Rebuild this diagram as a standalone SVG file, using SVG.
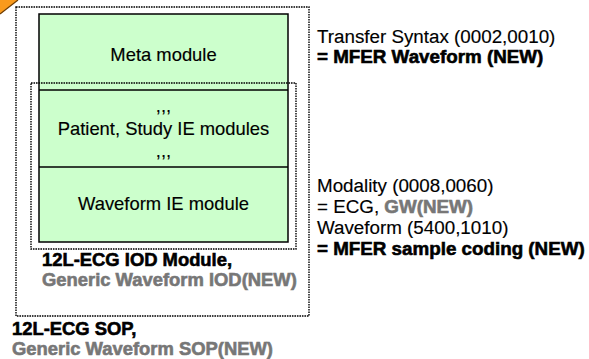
<svg xmlns="http://www.w3.org/2000/svg" width="589" height="359" viewBox="0 0 589 359">
  <style>
    .frame { fill: none; stroke: #000; stroke-width: 1.4; stroke-dasharray: 1.6 0.9; }
    .box { fill: #ccffcc; stroke: #000; stroke-width: 1.5; }
    .rule { stroke: #000; stroke-width: 1.5; }
    .t { font-family: "Liberation Sans", Arial, sans-serif; font-size: 18.4px; fill: #000; stroke: #000; stroke-width: 0.15; }
    .note { font-size: 18.8px; }
    .c { text-anchor: middle; }
    .b { font-weight: bold; stroke-width: 0.6; }
    .g { fill: #777; stroke: #777; }
  </style>

  <!-- corner marker -->
  <polygon points="0,0 18,0 0,14" fill="#f99a1c"/>
  <line x1="18" y1="0" x2="0" y2="14" stroke="#6b3a00" stroke-width="1.2"/>

  <!-- SOP frame -->
  <g id="sop">
    <rect class="frame" x="16" y="7" width="293" height="309"/>
    <text class="t b" x="12" y="335">12L-ECG SOP,</text>
    <text class="t b g" x="12" y="355">Generic Waveform SOP(NEW)</text>
  </g>

  <!-- module stack -->
  <g id="modules">
    <rect class="box" x="39" y="14" width="249" height="228"/>
    <line class="rule" x1="39" y1="90" x2="288" y2="90"/>
    <line class="rule" x1="39" y1="167" x2="288" y2="167"/>
    <text class="t c" x="163.5" y="61">Meta module</text>
    <text class="t c" x="163.5" y="112">,,,</text>
    <text class="t c" x="163.5" y="135">Patient, Study IE modules</text>
    <text class="t c" x="163.5" y="157">,,,</text>
    <text class="t c" x="163.5" y="210">Waveform IE module</text>
  </g>

  <!-- IOD frame -->
  <g id="iod">
    <rect class="frame" x="31" y="83" width="265" height="166"/>
    <text class="t b" x="42" y="266">12L-ECG IOD Module,</text>
    <text class="t b g" x="42" y="286">Generic Waveform IOD(NEW)</text>
  </g>

  <!-- attribute notes -->
  <g id="transfer-syntax">
    <text class="t note" x="317" y="43">Transfer Syntax (0002,0010)</text>
    <text class="t note b" x="317" y="63">= MFER Waveform (NEW)</text>
  </g>
  <g id="modality">
    <text class="t note" x="317" y="192">Modality (0008,0060)</text>
    <text class="t note" x="317" y="213">= ECG, <tspan class="b g">GW(NEW)</tspan></text>
    <text class="t note" x="317" y="234">Waveform (5400,1010)</text>
    <text class="t note b" x="317" y="255">= MFER sample coding (NEW)</text>
  </g>
</svg>
